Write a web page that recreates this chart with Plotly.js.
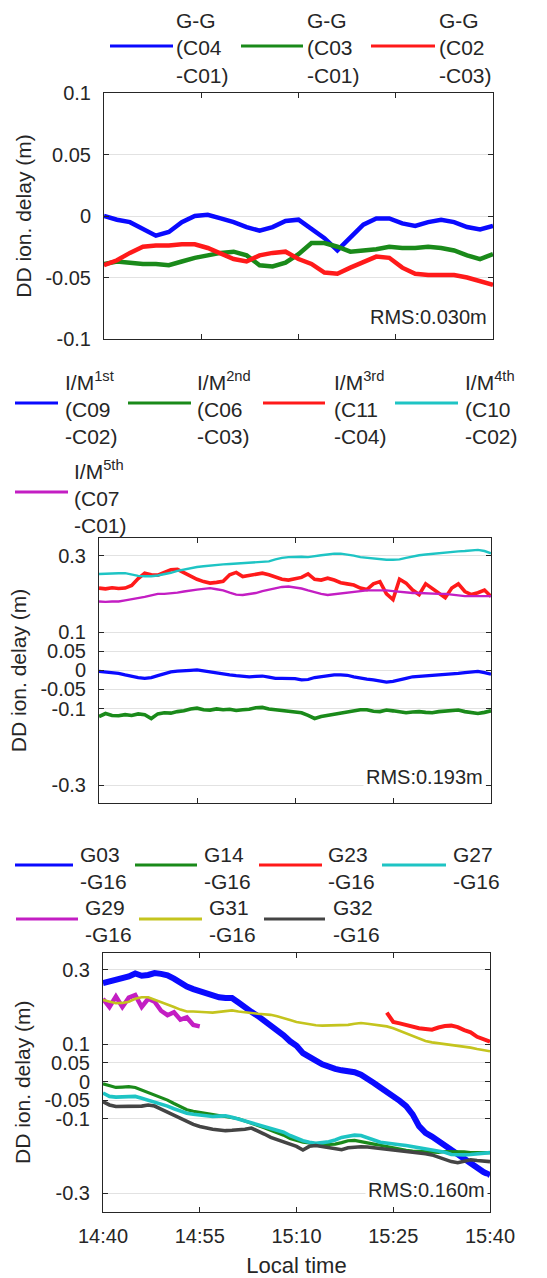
<!DOCTYPE html>
<html>
<head>
<meta charset="utf-8">
<script src="https://cdn.plot.ly/plotly-3.0.1.min.js"></script>
<style>
  html, body { margin: 0; padding: 0; background: #ffffff; }
  #chart { width: 547px; height: 1278px; }
</style>
</head>
<body>
<div id="chart"></div>
<script>
// ---- sampling times, minutes after 14:40 local time ----
const minutesBds = [0,2,4,6,8,10,12,14,16,18,20,22,24,26,28,30,32,34,36,38,40,42,44,46,48,50,52,54,56,58,60];
const minutesFull = [0,1,2,3,4,5,6,7,8,9,10,11,12,13,14,15,16,17,18,19,20,21,22,23,24,25,26,27,28,29,30,
  31,32,33,34,35,36,37,38,39,40,41,42,43,44,45,46,47,48,49,50,51,52,53,54,55,56,57,58,59,60];
const minutesG29 = [0,1,2,3,4,5,6,7,8,9,10,11,12,13,14,15];
const minutesG23 = [44,45,46,47,48,49,50,51,52,53,54,55,56,57,58,59,60];

// ---- BDS GEO-GEO double differences (m) ----
const ggC04C01 = [0.000,-0.003,-0.005,-0.010,-0.016,-0.013,-0.005,0.000,0.001,-0.002,-0.005,-0.009,-0.012,-0.009,-0.004,-0.003,
  -0.011,-0.018,-0.028,-0.017,-0.007,-0.002,-0.002,-0.006,-0.008,-0.005,-0.003,-0.005,-0.009,-0.011,-0.008];
const ggC03C01 = [-0.039,-0.037,-0.038,-0.039,-0.039,-0.040,-0.037,-0.034,-0.032,-0.030,-0.029,-0.032,-0.040,-0.041,-0.038,-0.031,
  -0.022,-0.022,-0.025,-0.029,-0.028,-0.027,-0.025,-0.026,-0.026,-0.025,-0.026,-0.028,-0.032,-0.035,-0.031];
const ggC02C03 = [-0.040,-0.036,-0.030,-0.025,-0.024,-0.024,-0.023,-0.023,-0.026,-0.031,-0.035,-0.037,-0.032,-0.030,-0.029,-0.035,
  -0.039,-0.046,-0.047,-0.042,-0.037,-0.033,-0.034,-0.042,-0.047,-0.048,-0.048,-0.048,-0.050,-0.053,-0.056];

// ---- BDS IGSO/MEO double differences (m) ----
const imC09C02 = [-0.003,-0.004,-0.006,-0.008,-0.012,-0.016,-0.019,-0.021,-0.019,-0.014,-0.009,-0.004,-0.002,-0.002,0.000,0.001,
  -0.002,-0.004,-0.007,-0.009,-0.012,-0.014,-0.016,-0.017,-0.016,-0.015,-0.018,-0.021,-0.021,-0.021,-0.022,-0.025,-0.024,-0.019,
  -0.016,-0.013,-0.012,-0.012,-0.013,-0.017,-0.021,-0.023,-0.025,-0.028,-0.031,-0.029,-0.026,-0.021,-0.017,-0.016,-0.015,-0.014,
  -0.012,-0.011,-0.010,-0.008,-0.006,-0.004,-0.003,-0.006,-0.010];
const imC06C03 = [-0.121,-0.113,-0.118,-0.119,-0.116,-0.118,-0.114,-0.116,-0.126,-0.114,-0.111,-0.112,-0.108,-0.106,-0.101,-0.099,
  -0.103,-0.104,-0.101,-0.103,-0.102,-0.105,-0.103,-0.102,-0.098,-0.097,-0.101,-0.103,-0.106,-0.108,-0.109,-0.111,-0.118,-0.126,
  -0.121,-0.118,-0.114,-0.112,-0.109,-0.107,-0.103,-0.103,-0.107,-0.108,-0.104,-0.106,-0.109,-0.111,-0.109,-0.108,-0.110,-0.111,
  -0.108,-0.106,-0.104,-0.104,-0.108,-0.111,-0.113,-0.110,-0.106];
const imC11C04 = [0.215,0.213,0.216,0.214,0.215,0.222,0.240,0.254,0.250,0.249,0.256,0.263,0.264,0.255,0.246,0.238,
  0.232,0.228,0.230,0.233,0.250,0.256,0.245,0.248,0.252,0.254,0.250,0.245,0.238,0.236,0.240,0.243,0.252,0.238,
  0.236,0.241,0.236,0.229,0.226,0.223,0.215,0.211,0.226,0.232,0.200,0.185,0.238,0.228,0.210,0.198,0.226,0.214,
  0.200,0.190,0.215,0.226,0.206,0.198,0.203,0.210,0.193];
const imC10C02 = [0.252,0.253,0.253,0.254,0.254,0.251,0.247,0.246,0.246,0.248,0.251,0.255,0.260,0.264,0.268,0.270,
  0.272,0.274,0.276,0.277,0.278,0.279,0.280,0.282,0.283,0.284,0.285,0.290,0.294,0.296,0.297,0.297,0.296,0.299,
  0.301,0.303,0.305,0.305,0.303,0.300,0.296,0.294,0.292,0.290,0.289,0.289,0.290,0.294,0.298,0.301,0.303,0.305,
  0.306,0.308,0.309,0.311,0.312,0.314,0.315,0.312,0.306];
const imC07C01 = [0.180,0.179,0.180,0.180,0.183,0.186,0.188,0.192,0.196,0.200,0.200,0.201,0.203,0.206,0.209,0.211,
  0.213,0.215,0.212,0.209,0.203,0.198,0.197,0.199,0.202,0.207,0.211,0.215,0.218,0.219,0.217,0.214,0.209,0.204,
  0.200,0.197,0.199,0.202,0.204,0.206,0.208,0.209,0.209,0.209,0.209,0.207,0.205,0.203,0.202,0.202,0.201,0.201,
  0.200,0.200,0.198,0.196,0.194,0.194,0.194,0.195,0.194];

// ---- GPS double differences against G16 (m) ----
const gpsG03 = [0.264,0.268,0.270,0.276,0.282,0.290,0.284,0.286,0.291,0.289,0.285,0.276,0.265,0.255,0.248,0.242,
  0.235,0.228,0.226,0.224,0.224,0.212,0.198,0.187,0.176,0.164,0.152,0.138,0.124,0.108,0.096,0.076,0.064,0.056,
  0.046,0.039,0.034,0.030,0.028,0.025,0.018,0.009,-0.004,-0.016,-0.027,-0.039,-0.052,-0.066,-0.088,-0.120,-0.138,
  -0.148,-0.160,-0.173,-0.184,-0.198,-0.209,-0.220,-0.232,-0.243,-0.251];
const gpsG14 = [-0.006,-0.012,-0.016,-0.015,-0.014,-0.016,-0.023,-0.030,-0.035,-0.042,-0.050,-0.059,-0.068,-0.076,-0.080,-0.083,
  -0.085,-0.087,-0.090,-0.094,-0.097,-0.100,-0.106,-0.111,-0.118,-0.124,-0.130,-0.137,-0.144,-0.153,-0.159,-0.163,-0.165,-0.168,
  -0.170,-0.169,-0.168,-0.164,-0.159,-0.158,-0.162,-0.165,-0.168,-0.171,-0.175,-0.179,-0.182,-0.185,-0.187,-0.188,-0.190,-0.191,
  -0.190,-0.188,-0.188,-0.188,-0.189,-0.191,-0.191,-0.191,-0.191];
const gpsG23 = [0.185,0.160,0.156,0.152,0.146,0.143,0.141,0.139,0.145,0.149,0.150,0.146,0.138,0.132,0.120,0.114,0.107];
const gpsG27 = [-0.031,-0.040,-0.042,-0.041,-0.039,-0.040,-0.045,-0.050,-0.055,-0.060,-0.066,-0.073,-0.079,-0.085,-0.088,-0.090,
  -0.092,-0.094,-0.093,-0.092,-0.096,-0.101,-0.106,-0.111,-0.115,-0.120,-0.125,-0.130,-0.136,-0.145,-0.152,-0.159,-0.163,-0.166,
  -0.164,-0.162,-0.157,-0.150,-0.147,-0.144,-0.145,-0.150,-0.157,-0.163,-0.166,-0.168,-0.170,-0.172,-0.175,-0.177,-0.179,-0.182,
  -0.185,-0.190,-0.196,-0.197,-0.197,-0.196,-0.194,-0.192,-0.191];
const gpsG29 = [0.222,0.200,0.228,0.200,0.225,0.232,0.200,0.222,0.214,0.190,0.178,0.186,0.166,0.172,0.152,0.148];
const gpsG31 = [0.219,0.214,0.210,0.211,0.214,0.222,0.226,0.226,0.220,0.214,0.207,0.200,0.193,0.188,0.188,0.188,
  0.186,0.185,0.187,0.189,0.191,0.188,0.185,0.184,0.182,0.181,0.179,0.175,0.169,0.165,0.160,0.157,0.153,0.151,
  0.150,0.150,0.150,0.151,0.152,0.155,0.157,0.155,0.153,0.152,0.148,0.143,0.136,0.128,0.121,0.114,0.109,0.105,
  0.103,0.101,0.099,0.096,0.094,0.091,0.087,0.084,0.081];
const gpsG32 = [-0.054,-0.063,-0.067,-0.067,-0.067,-0.067,-0.066,-0.063,-0.066,-0.074,-0.082,-0.091,-0.100,-0.108,-0.115,-0.121,
  -0.125,-0.128,-0.130,-0.132,-0.131,-0.130,-0.128,-0.125,-0.132,-0.141,-0.150,-0.156,-0.163,-0.169,-0.174,-0.184,-0.174,-0.172,
  -0.175,-0.178,-0.182,-0.183,-0.178,-0.176,-0.175,-0.176,-0.178,-0.179,-0.181,-0.182,-0.185,-0.188,-0.190,-0.191,-0.194,-0.197,
  -0.203,-0.210,-0.215,-0.218,-0.215,-0.210,-0.212,-0.214,-0.215];

// ---- labels ----
const ggNames = ['G-G<br>(C04<br>-C01)', 'G-G<br>(C03<br>-C01)', 'G-G<br>(C02<br>-C03)'];
const imNames = ['I/M<sup>1st</sup><br>(C09<br>-C02)', 'I/M<sup>2nd</sup><br>(C06<br>-C03)', 'I/M<sup>3rd</sup><br>(C11<br>-C04)',
  'I/M<sup>4th</sup><br>(C10<br>-C02)', 'I/M<sup>5th</sup><br>(C07<br>-C01)'];
const gpsNames = ['G03<br>-G16', 'G14<br>-G16', 'G23<br>-G16', 'G27<br>-G16', 'G29<br>-G16', 'G31<br>-G16', 'G32<br>-G16'];
const rmsLabels = ['RMS:0.030m', 'RMS:0.193m', 'RMS:0.160m'];
const ggTicks = [-0.1, -0.05, 0, 0.05, 0.1];
const wideTicks = [-0.3, -0.1, -0.05, 0, 0.05, 0.1, 0.3];

// ---- drawing ----
const W = 547, H = 1278;
const px = v => v / W;
const py = v => 1 - v / H;
const FONT = 'Liberation Sans, Arial, Helvetica, sans-serif';
const INK = '#262626';

const BLUE = '#0a0aff', GREEN = '#1a8a1a', RED = '#ff1a1a', CYAN = '#1ec4c4',
      MAGENTA = '#c31ec3', OLIVE = '#c4c41e', DARK = '#444444';

function clock(m) {
  const total = 14 * 60 + 40 + m;
  const h = Math.floor(total / 60), mm = total % 60;
  return '2000-01-01 ' + String(h).padStart(2, '0') + ':' + String(mm).padStart(2, '0') + ':00';
}

function series(mins, vals, name, color, width, xa, ya) {
  return { type: 'scatter', mode: 'lines', x: mins.map(clock), y: vals, name: name.replace(/<[^>]+>/g, ' '),
           line: { color: color, width: width }, xaxis: xa, yaxis: ya, hoverinfo: 'skip', showlegend: false };
}

const traces = [
  series(minutesBds, ggC04C01, ggNames[0], BLUE, 4.5, 'x', 'y'),
  series(minutesBds, ggC03C01, ggNames[1], GREEN, 4.5, 'x', 'y'),
  series(minutesBds, ggC02C03, ggNames[2], RED, 4.5, 'x', 'y'),

  series(minutesFull, imC09C02, imNames[0], BLUE, 3.2, 'x2', 'y2'),
  series(minutesFull, imC06C03, imNames[1], GREEN, 3.6, 'x2', 'y2'),
  series(minutesFull, imC11C04, imNames[2], RED, 3.6, 'x2', 'y2'),
  series(minutesFull, imC10C02, imNames[3], CYAN, 2.4, 'x2', 'y2'),
  series(minutesFull, imC07C01, imNames[4], MAGENTA, 2.4, 'x2', 'y2'),

  series(minutesFull, gpsG03, gpsNames[0], BLUE, 6, 'x3', 'y3'),
  series(minutesFull, gpsG14, gpsNames[1], GREEN, 3.2, 'x3', 'y3'),
  series(minutesG23, gpsG23, gpsNames[2], RED, 4, 'x3', 'y3'),
  series(minutesFull, gpsG27, gpsNames[3], CYAN, 3.6, 'x3', 'y3'),
  series(minutesG29, gpsG29, gpsNames[4], MAGENTA, 4.5, 'x3', 'y3'),
  series(minutesFull, gpsG31, gpsNames[5], OLIVE, 2.6, 'x3', 'y3'),
  series(minutesFull, gpsG32, gpsNames[6], DARK, 3.6, 'x3', 'y3')
];

function timeAxis(domain, anchor, labels) {
  return {
    domain: domain, anchor: anchor, type: 'date',
    range: [clock(0), clock(60)], tick0: clock(0), dtick: 15 * 60 * 1000, tickformat: '%H:%M',
    showticklabels: labels, ticks: 'inside', ticklen: 5, tickcolor: INK,
    showline: true, linecolor: INK, linewidth: 1, mirror: 'ticks',
    showgrid: false, zeroline: false, fixedrange: true,
    tickfont: { family: FONT, size: 20, color: INK }, ticklabelstandoff: 6
  };
}

function valueAxis(domain, anchor, range, ticks) {
  return {
    domain: domain, anchor: anchor, range: range,
    tickmode: 'array', tickvals: ticks, ticktext: ticks.map(v => String(v)),
    ticks: 'inside', ticklen: 5, tickcolor: INK,
    showline: true, linecolor: INK, linewidth: 1, mirror: 'ticks',
    showgrid: true, gridcolor: '#e2e2e2', gridwidth: 1, zeroline: false, fixedrange: true,
    tickfont: { family: FONT, size: 20, color: INK }, ticklabelstandoff: 8,
    title: { text: 'DD ion. delay (m)', font: { family: FONT, size: 21, color: INK }, standoff: 8 }
  };
}

const x3 = timeAxis([px(103), px(490)], 'y3', true);
x3.title = { text: 'Local time', font: { family: FONT, size: 22, color: INK }, standoff: 12 };

// legend entries: [lineStart, lineEnd, lineY, textX, textY]
const ggLegendPos = [[110, 173, 46, 174, 48], [241, 303, 46, 305, 48], [371, 435, 46, 437, 48]];
const imLegendPos = [[15, 58, 403, 63, 408], [128, 191, 403, 195, 408], [263, 325, 403, 332, 408],
  [395, 458, 403, 463, 408], [15, 68, 492, 72, 497]];
const gpsLegendPos = [[15, 73, 865, 78, 868], [135, 197, 865, 202, 868], [259, 322, 865, 326, 868],
  [382, 446, 865, 451, 868], [16, 78, 919, 83, 921], [139, 202, 919, 207, 921], [264, 325, 919, 331, 921]];

const shapes = [];
const annotations = [];
function addLegend(names, colors, pos) {
  names.forEach((n, i) => {
    const p = pos[i];
    shapes.push({ type: 'line', xref: 'paper', yref: 'paper', x0: px(p[0]), x1: px(p[1]), y0: py(p[2]), y1: py(p[2]),
                  line: { color: colors[i], width: 3 } });
    annotations.push({ xref: 'paper', yref: 'paper', x: px(p[3]), y: py(p[4]), xanchor: 'left', yanchor: 'middle',
                       align: 'left', showarrow: false, text: n, font: { family: FONT, size: 21, color: INK } });
  });
}
addLegend(ggNames, [BLUE, GREEN, RED], ggLegendPos);
addLegend(imNames, [BLUE, GREEN, RED, CYAN, MAGENTA], imLegendPos);
addLegend(gpsNames, [BLUE, GREEN, RED, CYAN, MAGENTA, OLIVE, DARK], gpsLegendPos);

// RMS notes inside each panel, lower right
[[490, 317], [486, 777], [488, 1190]].forEach((p, i) => {
  annotations.push({ xref: 'paper', yref: 'paper', x: px(p[0]), y: py(p[1]), xanchor: 'right', yanchor: 'middle',
                     showarrow: false, text: rmsLabels[i], bgcolor: '#ffffff', borderpad: 2,
                     font: { family: FONT, size: 20, color: INK } });
});

const layout = {
  width: W, height: H, margin: { l: 0, r: 0, t: 0, b: 0 },
  paper_bgcolor: '#ffffff', plot_bgcolor: '#ffffff', showlegend: false,
  font: { family: FONT, color: INK },
  xaxis: timeAxis([px(104), px(493)], 'y', false),
  yaxis: valueAxis([py(339), py(93)], 'x', [-0.1, 0.1], ggTicks),
  xaxis2: timeAxis([px(99), px(491)], 'y2', false),
  yaxis2: valueAxis([py(803), py(538)], 'x2', [-0.347, 0.346], wideTicks),
  xaxis3: x3,
  yaxis3: valueAxis([py(1211.5), py(953)], 'x3', [-0.349, 0.345], wideTicks),
  shapes: shapes,
  annotations: annotations
};

Plotly.newPlot('chart', traces, layout, { staticPlot: true, displayModeBar: false });
</script>
</body>
</html>
